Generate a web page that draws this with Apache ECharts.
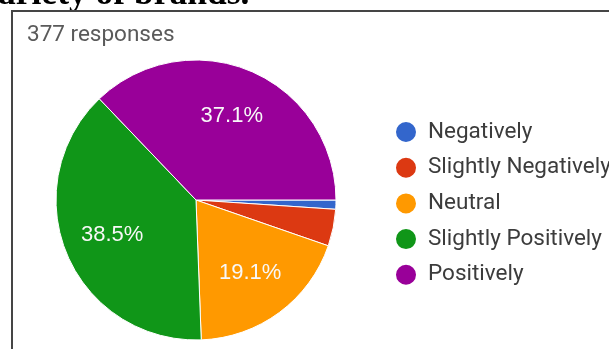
<!DOCTYPE html>
<html>
<head>
<meta charset="utf-8">
<script src="https://cdn.jsdelivr.net/npm/echarts@6/dist/echarts.min.js"></script>
<style>
html,body{margin:0;padding:0;background:#fff;}
#chart{width:609px;height:349px;}
</style>
</head>
<body>
<div id="chart"></div>
<script>
const categories = ['Negatively', 'Slightly Negatively', 'Neutral', 'Slightly Positively', 'Positively'];
const counts = [4, 16, 72, 145, 140];
const colors = ['#3366cc', '#dc3912', '#ff9900', '#109618', '#990099'];
const headerText = 'ariety of brands.';
const subtitleText = '377 responses';

const pieData = categories.map((name, i) => ({ name: name, value: counts[i], itemStyle: { color: colors[i] } }));
const total = counts.reduce((a, b) => a + b, 0);

const chart = echarts.init(document.getElementById('chart'), null, { renderer: 'canvas' });
chart.setOption({
  animation: false,
  backgroundColor: '#ffffff',
  graphic: [
    { type: 'text', left: -2, top: -23, style: { text: headerText, font: 'bold 35.5px "Liberation Serif", "Times New Roman", serif', fill: '#000' } },
    { type: 'rect', shape: { x: 12, y: 11, width: 700, height: 400 }, style: { fill: '#ffffff', stroke: '#454545', lineWidth: 2 }, z: 1 },
    { type: 'text', left: 27, top: 24, z: 2, style: { text: subtitleText, font: '22.5px Roboto, "Liberation Sans", Arial, sans-serif', fill: '#5a5a5a' } }
  ],
  legend: {
    orient: 'vertical',
    left: 389,
    top: 115,
    icon: 'circle',
    itemWidth: 34,
    itemHeight: 22,
    itemGap: 11.7,
    data: categories,
    textStyle: { fontSize: 22.5, color: '#3c3c3c', fontFamily: 'Roboto, "Liberation Sans", Arial, sans-serif' }
  },
  series: [
    {
      type: 'pie',
      center: [196, 200],
      radius: [0, 140],
      startAngle: 0,
      clockwise: true,
      percentPrecision: 1,
      label: { show: false },
      labelLine: { show: false },
      itemStyle: { borderColor: '#ffffff', borderWidth: 1 },
      emphasis: { disabled: true },
      data: pieData
    },
    {
      type: 'pie',
      center: [196, 200],
      radius: [0, 176],
      startAngle: 0,
      clockwise: true,
      silent: true,
      percentPrecision: 1,
      itemStyle: { color: 'rgba(0,0,0,0)' },
      labelLine: { show: false },
      label: {
        position: 'inside',
        color: '#f8f8f8',
        fontSize: 22,
        fontFamily: '"Liberation Sans", Arial, sans-serif',
        formatter: function (p) { return p.value / total >= 0.1 ? p.percent.toFixed(1) + '%' : ''; }
      },
      emphasis: { disabled: true },
      data: categories.map((name, i) => ({ name: name, value: counts[i] }))
    }
  ]
});
</script>
</body>
</html>
